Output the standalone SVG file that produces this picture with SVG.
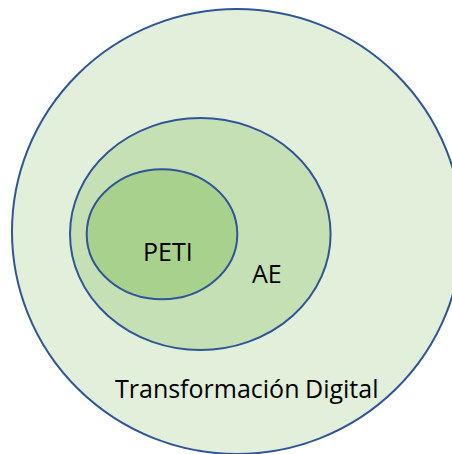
<svg xmlns="http://www.w3.org/2000/svg" width="452" height="454" viewBox="0 0 452 454">
<style>
.ring{stroke:#2F5597;stroke-width:2}
.lbl{font-family:"Open Sans","Liberation Sans",sans-serif;font-size:25px;fill:#000}
</style>
<rect width="452" height="454" fill="#fff"/>
<g id="transformacion">
<ellipse class="ring" cx="237" cy="231.5" rx="225" ry="222.5" fill="#E2EFDA"/>
<text class="lbl" x="115" y="397.5">Transformación <tspan x="305">Digital</tspan></text>
</g>
<g id="ae">
<ellipse class="ring" cx="200.3" cy="234" rx="130.3" ry="116" fill="#C5E0B4"/>
<text class="lbl" x="252" y="283.3">AE</text>
</g>
<g id="peti">
<ellipse class="ring" cx="162" cy="234.3" rx="75.3" ry="65" fill="#A9D18E"/>
<text class="lbl" x="143" y="261">PETI</text>
</g>
<g id="connectors"/>
</svg>
